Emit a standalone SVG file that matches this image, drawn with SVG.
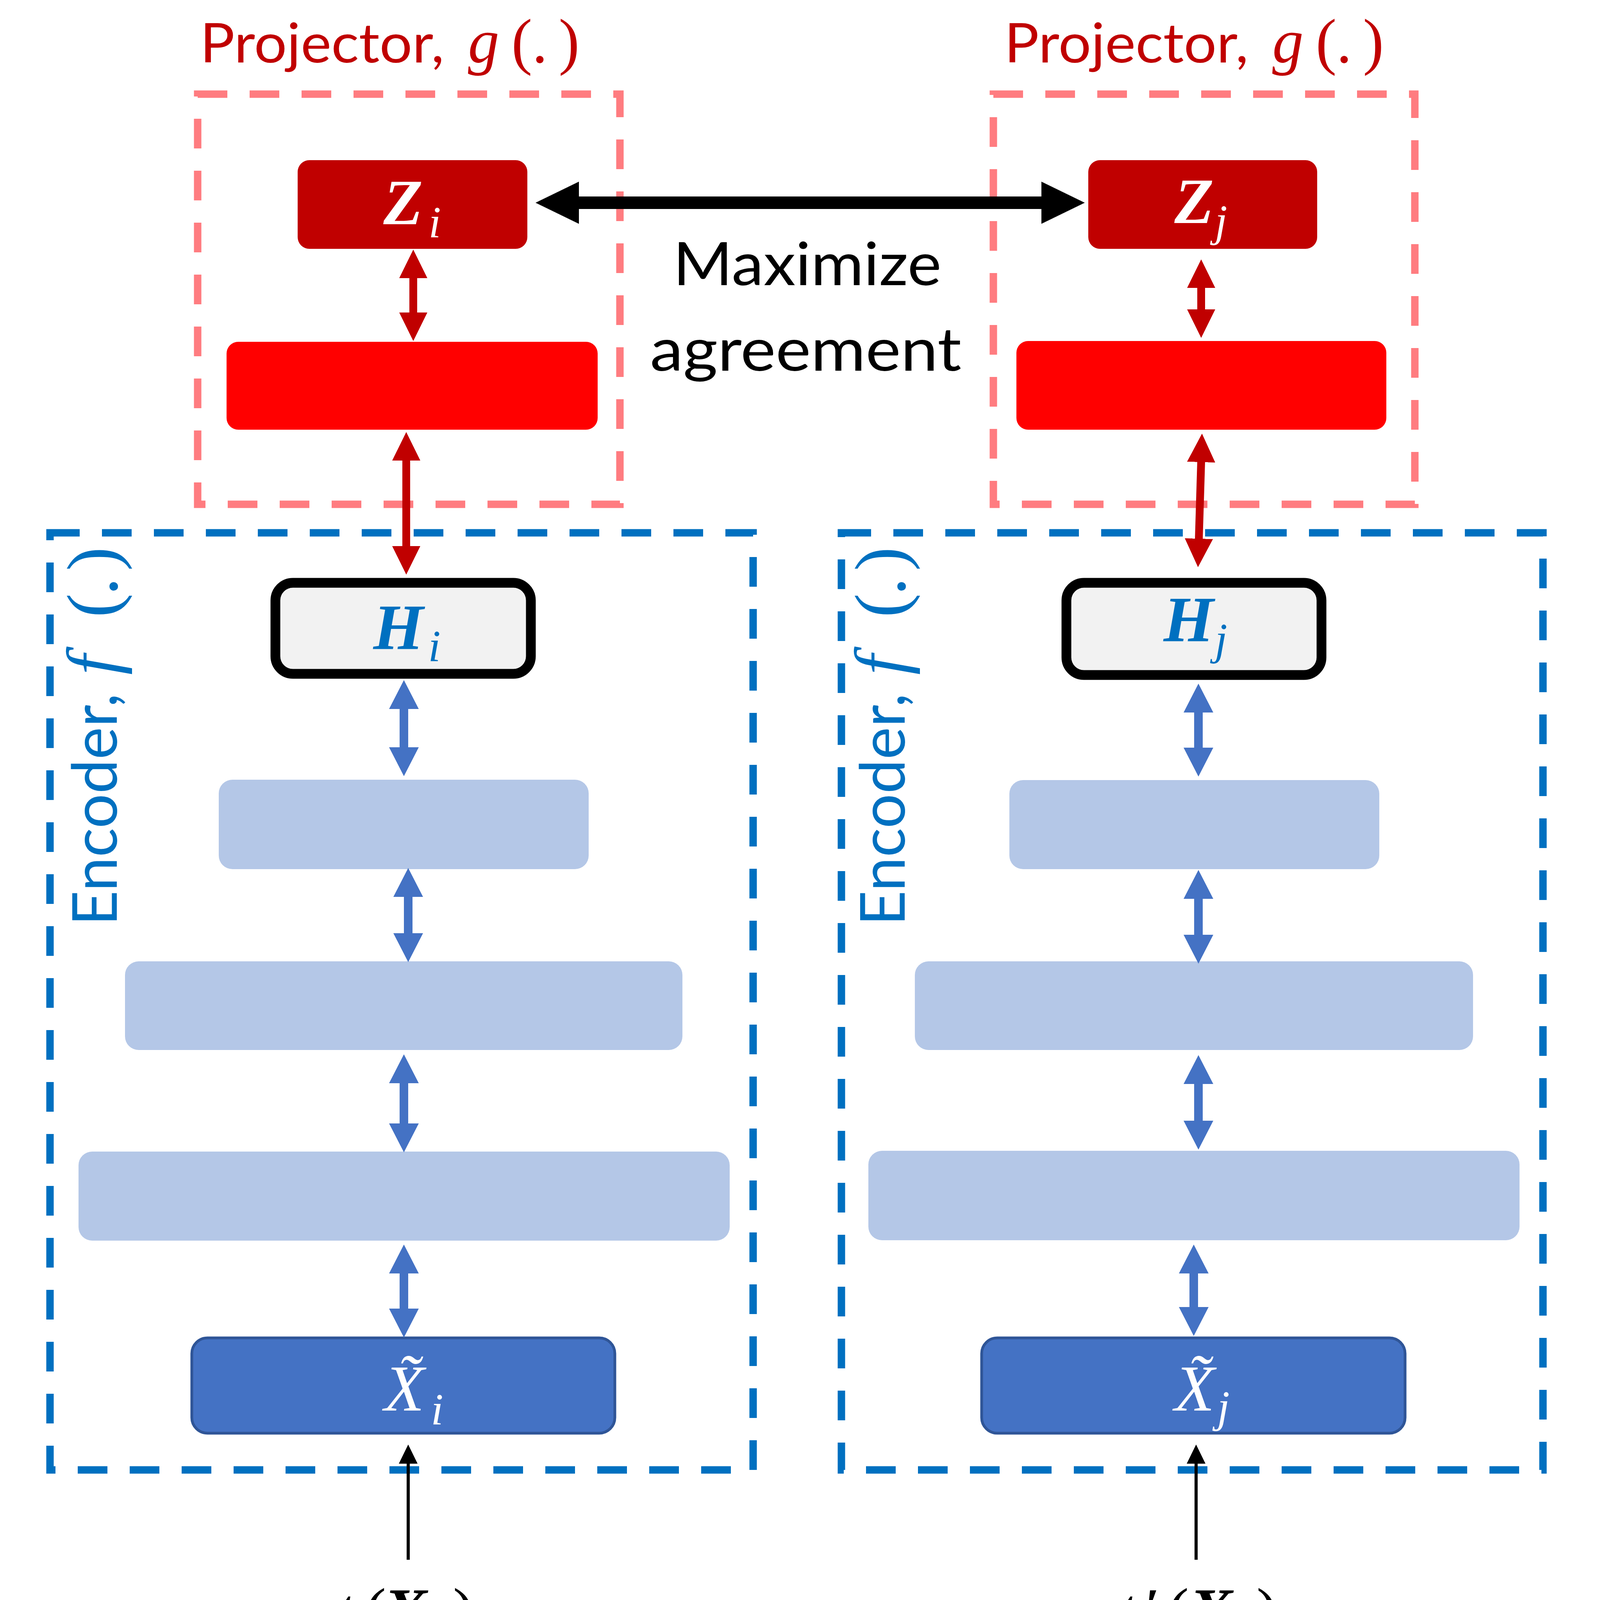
<svg xmlns="http://www.w3.org/2000/svg" width="6497" height="4233" viewBox="0 0 6497 4233">
<style>
.enc{fill:none;stroke:#0070C0;stroke-width:19;stroke-dasharray:76 57}
.proj{fill:none;stroke:#FF7C80;stroke-width:19;stroke-dasharray:76 57}
.smx{fill:none;stroke:#548235;stroke-width:19;stroke-dasharray:76 57}
.lb{fill:#B4C7E7}
.inp{fill:#4472C4;stroke:#2F5597;stroke-width:7}
.hid{fill:#F2F2F2;stroke:#000;stroke-width:25}
.zr{fill:#C00000}
.rr{fill:#FF0000}
.gr{fill:#548235}
.cal{font-family:Lato,"Open Sans","Liberation Sans",sans-serif}
.m{font-family:"Liberation Serif","DejaVu Serif",serif;font-style:italic}
.b{font-weight:bold}
.up{font-style:normal}
.mid{text-anchor:middle}
.ar{stroke:#C00000;stroke-width:20;fill:none;marker-start:url(#hR);marker-end:url(#hR)}
.ab{stroke:#4472C4;stroke-width:22;fill:none;marker-start:url(#hB);marker-end:url(#hB)}
.ag{stroke:#548235;stroke-width:14;fill:none;marker-start:url(#hG);marker-end:url(#hG)}
.ak{stroke:#000;stroke-width:32;fill:none;marker-start:url(#hK);marker-end:url(#hK)}
.ai{stroke:#000;stroke-width:8;fill:none;marker-end:url(#hI)}
</style>
<defs>
<marker id="hR" markerUnits="userSpaceOnUse" viewBox="0 0 73 72" markerWidth="73" markerHeight="72" refX="2" refY="36" orient="auto-start-reverse"><path d="M0,0 L73,36 L0,72 Z" fill="#C00000"/></marker>
<marker id="hB" markerUnits="userSpaceOnUse" viewBox="0 0 74 76" markerWidth="74" markerHeight="76" refX="2" refY="38" orient="auto-start-reverse"><path d="M0,0 L74,38 L0,76 Z" fill="#4472C4"/></marker>
<marker id="hG" markerUnits="userSpaceOnUse" viewBox="0 0 67 76" markerWidth="67" markerHeight="76" refX="2" refY="38" orient="auto-start-reverse"><path d="M0,0 L67,38 L0,76 Z" fill="#548235"/></marker>
<marker id="hK" markerUnits="userSpaceOnUse" viewBox="0 0 111 108" markerWidth="111" markerHeight="108" refX="2" refY="54" orient="auto-start-reverse"><path d="M0,0 L111,54 L0,108 Z" fill="#000"/></marker>
<marker id="hI" markerUnits="userSpaceOnUse" viewBox="0 0 49 48" markerWidth="49" markerHeight="48" refX="2" refY="24" orient="auto"><path d="M0,0 L49,24 L0,48 Z" fill="#000"/></marker>
</defs>
<rect x="0" y="0" width="6497" height="4233" fill="#fff"/>

<g id="encoder-i">
<rect class="enc" x="128" y="1364" width="1800" height="2399"/>
<g transform="translate(299,2370) rotate(-90)">
<text class="cal" x="0" y="0" font-size="160" fill="#0070C0" textLength="595" lengthAdjust="spacingAndGlyphs">Encoder,</text>
<text class="m mid" y="0" font-size="185" fill="#0070C0"><tspan x="668">f</tspan><tspan class="up" x="820">(</tspan><tspan class="up" x="869">.</tspan><tspan class="up" x="939">)</tspan></text>
</g>
</g>
<g id="encoder-j">
<rect class="enc" x="2154" y="1364" width="1796" height="2399"/>
<g transform="translate(2316,2370) rotate(-90)">
<text class="cal" x="0" y="0" font-size="160" fill="#0070C0" textLength="595" lengthAdjust="spacingAndGlyphs">Encoder,</text>
<text class="m mid" y="0" font-size="185" fill="#0070C0"><tspan x="668">f</tspan><tspan class="up" x="820">(</tspan><tspan class="up" x="869">.</tspan><tspan class="up" x="939">)</tspan></text>
</g>
</g>
<g id="encoder-n">
<rect class="enc" x="4521" y="1364" width="1801" height="2399"/>
<g transform="translate(4686,2370) rotate(-90)">
<text class="cal" x="0" y="0" font-size="160" fill="#0070C0" textLength="595" lengthAdjust="spacingAndGlyphs">Encoder,</text>
<text class="m mid" y="0" font-size="185" fill="#0070C0"><tspan x="668">f</tspan><tspan class="up" x="820">(</tspan><tspan class="up" x="869">.</tspan><tspan class="up" x="939">)</tspan></text>
</g>
</g>

<g id="projector-i">
<rect class="proj" x="506" y="241" width="1081" height="1050"/>
<text class="cal" x="512" y="160" font-size="140" fill="#C00000" textLength="625" lengthAdjust="spacingAndGlyphs">Projector,</text>
<text class="m mid" y="160" font-size="160" fill="#C00000"><tspan x="1238">g</tspan><tspan class="up" x="1336">(</tspan><tspan class="up" x="1382">.</tspan><tspan class="up" x="1457">)</tspan></text>
</g>
<g id="projector-j">
<rect class="proj" x="2543" y="241" width="1079" height="1050"/>
<text class="cal" x="2571" y="160" font-size="140" fill="#C00000" textLength="625" lengthAdjust="spacingAndGlyphs">Projector,</text>
<text class="m mid" y="160" font-size="160" fill="#C00000"><tspan x="3297">g</tspan><tspan class="up" x="3395">(</tspan><tspan class="up" x="3441">.</tspan><tspan class="up" x="3516">)</tspan></text>
</g>

<g id="softmax">
<rect class="smx" x="5034" y="753" width="841" height="479"/>
<text class="cal" x="4978" y="673" font-size="146" fill="#548235" textLength="954" lengthAdjust="spacingAndGlyphs">SoftMax Layer</text>
</g>
<g id="softmax-layer"><rect class="gr" x="5156" y="874" width="588" height="227" rx="30"/></g>

<g id="maximize-label">
<text class="cal" x="1723" y="730" font-size="153" fill="#000" textLength="687" lengthAdjust="spacingAndGlyphs">Maximize</text>
<text class="cal" x="1664" y="949" font-size="153" fill="#000" textLength="797" lengthAdjust="spacingAndGlyphs">agreement</text>
</g>

<g id="z-i">
<rect class="zr" x="762" y="410" width="588" height="227" rx="30"/>
<text class="m mid" fill="#fff"><tspan class="b" x="1032" y="574" font-size="165">Z</tspan><tspan x="1113" y="608" font-size="115">i</tspan></text>
</g>
<g id="z-j">
<rect class="zr" x="2786" y="410" width="586" height="227" rx="30"/>
<text class="m mid" fill="#fff"><tspan class="b" x="3057" y="571" font-size="165">Z</tspan><tspan x="3126" y="604" font-size="115">j</tspan></text>
</g>

<g id="proj-i"><rect class="rr" x="580" y="875" width="950" height="225" rx="30"/></g>
<g id="proj-j"><rect class="rr" x="2602" y="873" width="947" height="227" rx="30"/></g>

<g id="h-i">
<rect class="hid" x="705" y="1492" width="654" height="233" rx="45"/>
<text class="m mid" fill="#0070C0"><tspan class="b" x="1020" y="1661" font-size="165">H</tspan><tspan x="1112" y="1693" font-size="115">i</tspan></text>
</g>
<g id="h-j">
<rect class="hid" x="2730" y="1492" width="653" height="236" rx="45"/>
<text class="m mid" fill="#0070C0"><tspan class="b" x="3043" y="1641" font-size="165">H</tspan><tspan x="3126" y="1675" font-size="115">j</tspan></text>
</g>
<g id="h-n">
<rect class="hid" x="5100" y="1489" width="653" height="236" rx="45"/>
<text class="m mid" fill="#0070C0"><tspan class="b" x="5395" y="1660" font-size="165">H</tspan><tspan x="5502" y="1695" font-size="115">n</tspan></text>
</g>

<g id="layer-i-1"><rect class="lb" x="560" y="1996" width="947" height="229" rx="35"/></g>
<g id="layer-i-2"><rect class="lb" x="320" y="2461" width="1427" height="227" rx="35"/></g>
<g id="layer-i-3"><rect class="lb" x="201" y="2948" width="1667" height="228" rx="35"/></g>
<g id="layer-j-1"><rect class="lb" x="2584" y="1997" width="947" height="228" rx="35"/></g>
<g id="layer-j-2"><rect class="lb" x="2342" y="2461" width="1429" height="227" rx="35"/></g>
<g id="layer-j-3"><rect class="lb" x="2223" y="2946" width="1667" height="229" rx="35"/></g>
<g id="layer-n-1"><rect class="lb" x="4952" y="1995" width="949" height="226" rx="35"/></g>
<g id="layer-n-2"><rect class="lb" x="4712" y="2458" width="1427" height="229" rx="35"/></g>
<g id="layer-n-3"><rect class="lb" x="4593" y="2945" width="1667" height="227" rx="35"/></g>

<g id="x-i">
<rect class="inp" x="491" y="3425" width="1083" height="244" rx="40"/>
<text class="m mid" fill="#fff"><tspan x="1035" y="3611" font-size="168">X̃</tspan><tspan x="1119" y="3647" font-size="115">i</tspan></text>
</g>
<g id="x-j">
<rect class="inp" x="2513" y="3425" width="1084" height="244" rx="40"/>
<text class="m mid" fill="#fff"><tspan x="3058" y="3611" font-size="168">X̃</tspan><tspan x="3132" y="3640" font-size="115">j</tspan></text>
</g>
<g id="x-n">
<rect class="inp" x="4883" y="3423" width="1085" height="245" rx="40"/>
<text class="m mid" fill="#fff"><tspan x="5411" y="3597" font-size="168">X</tspan><tspan x="5510" y="3632" font-size="115">n</tspan></text>
</g>

<g id="input-i">
<text class="m mid" font-size="165" fill="#000"><tspan x="885" y="4180">t</tspan><tspan class="up" x="961" y="4180">(</tspan><tspan class="b" x="1038" y="4180">X</tspan><tspan x="1128" y="4215" font-size="115">i</tspan><tspan class="up" x="1187" y="4180">)</tspan></text>
</g>
<g id="input-j">
<text class="m mid" font-size="165" fill="#000"><tspan x="2887" y="4180">t</tspan><tspan class="up" x="2950" y="4180">′</tspan><tspan class="up" x="3016" y="4180">(</tspan><tspan class="b" x="3100" y="4180">X</tspan><tspan x="3186" y="4215" font-size="115">i</tspan><tspan class="up" x="3244" y="4180">)</tspan></text>
</g>

<g id="connectors">
<line class="ak" x1="1480" y1="519" x2="2668" y2="519"/>
<line class="ar" x1="1058" y1="710" x2="1058" y2="802"/>
<line class="ar" x1="1040" y1="1177" x2="1040" y2="1400"/>
<line class="ar" x1="3075" y1="735" x2="3075" y2="794"/>
<line class="ar" x1="3075" y1="1181" x2="3069" y2="1381"/>
<line class="ag" x1="5448" y1="1182" x2="5440" y2="1403"/>
<line class="ab" x1="1034" y1="1813" x2="1034" y2="1915"/>
<line class="ab" x1="1045" y1="2294" x2="1045" y2="2391"/>
<line class="ab" x1="1034" y1="2771" x2="1034" y2="2878"/>
<line class="ab" x1="1034" y1="3258" x2="1034" y2="3352"/>
<line class="ab" x1="3068" y1="1822" x2="3068" y2="1916"/>
<line class="ab" x1="3068" y1="2299" x2="3068" y2="2395"/>
<line class="ab" x1="3068" y1="2773" x2="3068" y2="2871"/>
<line class="ab" x1="3056" y1="3258" x2="3056" y2="3348"/>
<line class="ab" x1="5426" y1="1805" x2="5426" y2="1925"/>
<line class="ab" x1="5426" y1="2303" x2="5426" y2="2377"/>
<line class="ab" x1="5426" y1="2769" x2="5426" y2="2864"/>
<line class="ab" x1="5426" y1="3253" x2="5426" y2="3335"/>
<line class="ai" x1="1045" y1="3993" x2="1045" y2="3745"/>
<line class="ai" x1="3062" y1="3993" x2="3062" y2="3745"/>
</g>
</svg>
